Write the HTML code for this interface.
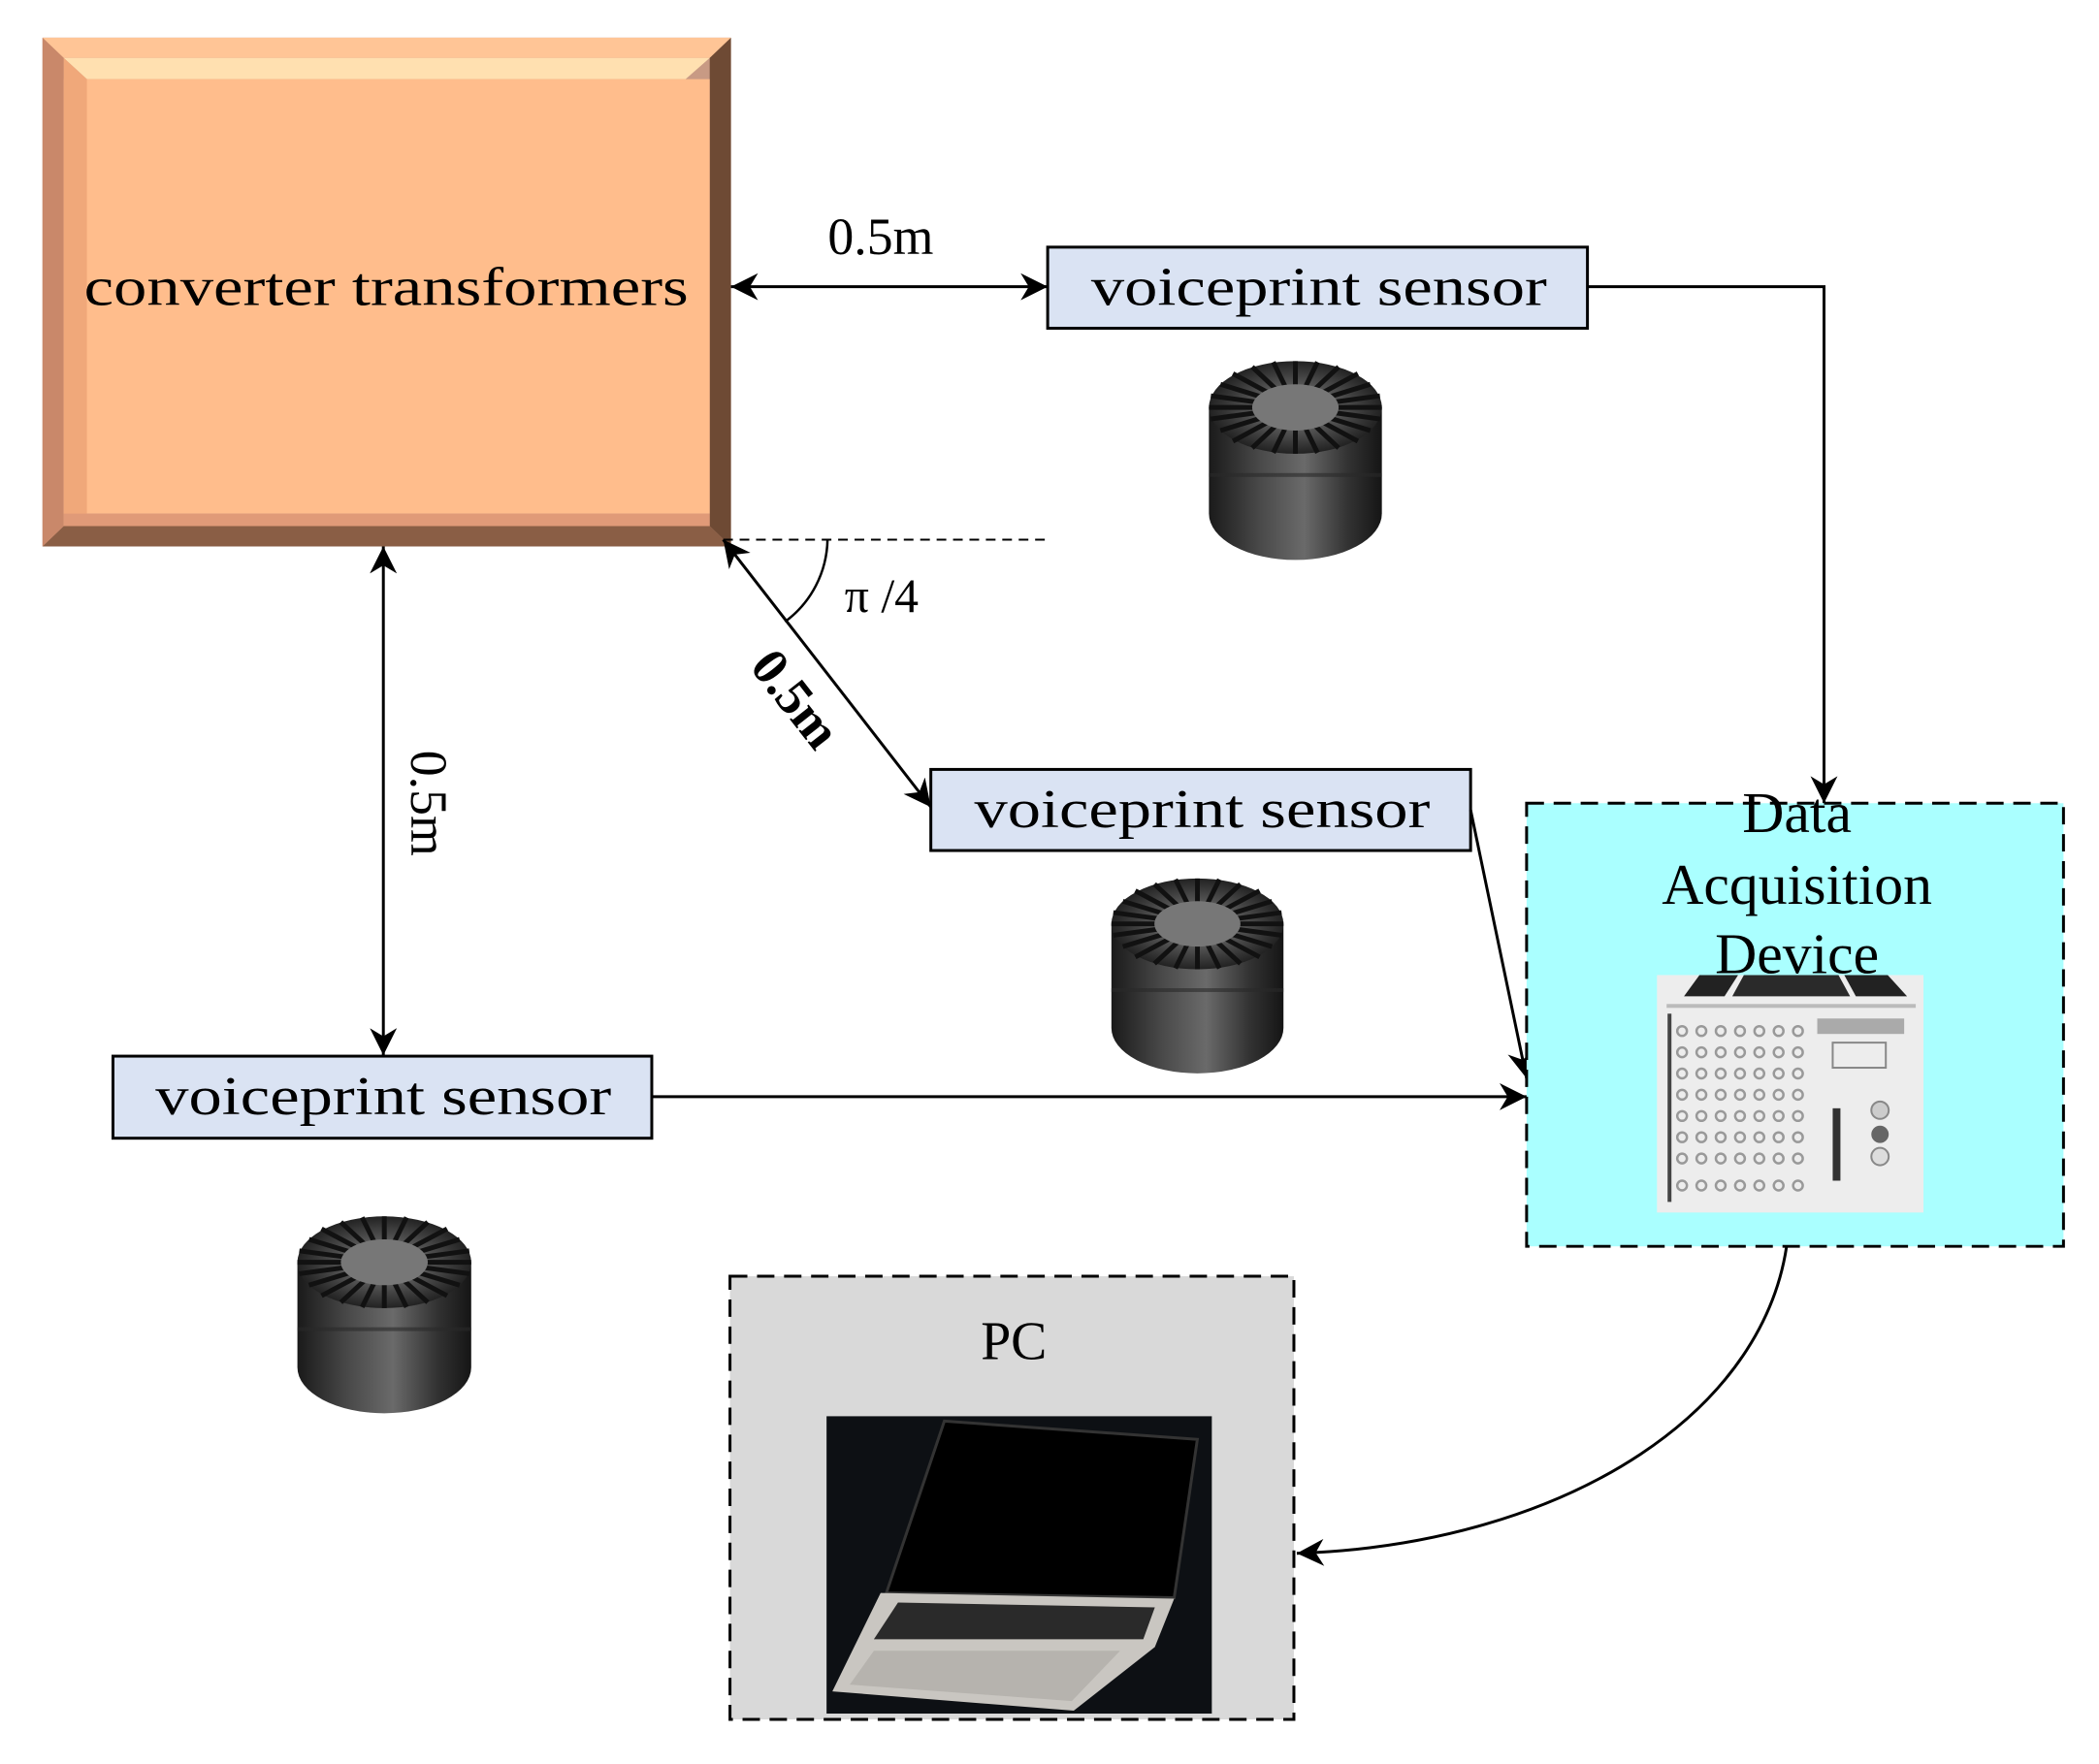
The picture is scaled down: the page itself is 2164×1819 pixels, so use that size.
<!DOCTYPE html>
<html><head><meta charset="utf-8"><style>html,body{margin:0;padding:0;background:#fff}svg{display:block}</style></head>
<body>
<svg width="2164" height="1819" viewBox="0 0 2164 1819" xmlns="http://www.w3.org/2000/svg" font-family="'Liberation Serif', serif">
<defs>
<marker id="ah" viewBox="0 0 10 10" refX="10" refY="5" markerWidth="32" markerHeight="28" markerUnits="userSpaceOnUse" orient="auto-start-reverse">
<path d="M0,0 L10,5 L0,10 L3,5 z" fill="#000"/></marker>
<linearGradient id="cyl" x1="0" x2="1" y1="0" y2="0">
<stop offset="0" stop-color="#1a1a1a"/><stop offset="0.3" stop-color="#4a4a4a"/><stop offset="0.55" stop-color="#6a6a6a"/><stop offset="0.8" stop-color="#333"/><stop offset="1" stop-color="#151515"/></linearGradient>
<radialGradient id="top" cx="0.5" cy="0.5" r="0.5"><stop offset="0" stop-color="#888"/><stop offset="0.5" stop-color="#555"/><stop offset="1" stop-color="#222"/></radialGradient>
<g id="sensor">
<path d="M0,50 L0,160 A90,48 0 0 0 180,160 L180,50 Z" fill="url(#cyl)"/>
<rect x="0" y="118" width="180" height="4" fill="#2a2a2a" opacity="0.6"/>
<ellipse cx="90" cy="50" rx="90" ry="48" fill="url(#top)"/>
<g stroke="#111" stroke-width="5">
<line x1="90" y1="50" x2="180" y2="50"/><line x1="90" y1="50" x2="168" y2="74"/><line x1="90" y1="50" x2="135" y2="92"/><line x1="90" y1="50" x2="90" y2="98"/><line x1="90" y1="50" x2="45" y2="92"/><line x1="90" y1="50" x2="12" y2="74"/><line x1="90" y1="50" x2="0" y2="50"/><line x1="90" y1="50" x2="12" y2="26"/><line x1="90" y1="50" x2="45" y2="8"/><line x1="90" y1="50" x2="90" y2="2"/><line x1="90" y1="50" x2="135" y2="8"/><line x1="90" y1="50" x2="168" y2="26"/>
<line x1="90" y1="50" x2="178" y2="62"/><line x1="90" y1="50" x2="155" y2="85"/><line x1="90" y1="50" x2="113" y2="97"/><line x1="90" y1="50" x2="67" y2="97"/><line x1="90" y1="50" x2="25" y2="85"/><line x1="90" y1="50" x2="2" y2="62"/><line x1="90" y1="50" x2="2" y2="38"/><line x1="90" y1="50" x2="25" y2="15"/><line x1="90" y1="50" x2="67" y2="3"/><line x1="90" y1="50" x2="113" y2="3"/><line x1="90" y1="50" x2="155" y2="15"/><line x1="90" y1="50" x2="178" y2="38"/>
</g>
<ellipse cx="90" cy="50" rx="45" ry="24" fill="#777"/>
</g>
</defs>
<g transform="scale(0.9955)">
<!-- orange box with bevel -->
<rect x="44" y="39" width="713" height="527" fill="#c89a84"/>
<polygon points="44,39 757,39 735,60 66,60" fill="#ffc596"/>
<polygon points="66,60 735,60 710,82 90,82" fill="#ffe0b0"/>
<polygon points="757,39 757,566 735,545 735,60" fill="#6e4a34"/>
<polygon points="44,566 757,566 735,545 66,545" fill="#8a5e45"/>
<polygon points="44,39 66,60 66,545 44,566" fill="#c9886a"/>
<rect x="66" y="82" width="669" height="450" fill="#ffbd8c"/>
<polygon points="66,60 90,82 90,532 66,545" fill="#f0a87a"/>
<polygon points="66,532 735,532 735,545 66,545" fill="#e09a78"/>
<text x="400" y="316" font-size="56" text-anchor="middle" textLength="626" lengthAdjust="spacingAndGlyphs">converter transformers</text>

<rect x="1085" y="256" width="559" height="84" fill="#dae3f3" stroke="#000" stroke-width="3"/>
<text x="1366" y="316" font-size="56" text-anchor="middle" textLength="472" lengthAdjust="spacingAndGlyphs">voiceprint sensor</text>
<rect x="964" y="797" width="559" height="84" fill="#dae3f3" stroke="#000" stroke-width="3"/>
<text x="1245" y="857" font-size="56" text-anchor="middle" textLength="472" lengthAdjust="spacingAndGlyphs">voiceprint sensor</text>
<rect x="117" y="1094" width="558" height="85" fill="#dae3f3" stroke="#000" stroke-width="3"/>
<text x="397" y="1154" font-size="56" text-anchor="middle" textLength="472" lengthAdjust="spacingAndGlyphs">voiceprint sensor</text>

<use href="#sensor" transform="translate(1252,372) scale(0.995,1.0)"/>
<use href="#sensor" transform="translate(1151,908) scale(0.99,0.98)"/>
<use href="#sensor" transform="translate(308,1258) scale(1,0.99)"/>

<g stroke="#000" stroke-width="3" fill="none">
<line x1="757" y1="297" x2="1085" y2="297" marker-start="url(#ah)" marker-end="url(#ah)"/>
<polyline points="1644,297 1889,297 1889,832" marker-end="url(#ah)"/>
<line x1="397" y1="566" x2="397" y2="1093" marker-start="url(#ah)" marker-end="url(#ah)"/>
<line x1="749" y1="559" x2="964" y2="836" marker-start="url(#ah)" marker-end="url(#ah)"/>
<line x1="675" y1="1136" x2="1581" y2="1136" marker-end="url(#ah)"/>
<line x1="1523" y1="839" x2="1581" y2="1117" marker-end="url(#ah)"/>
<path d="M1853,1262 C1845,1460 1620,1600 1343,1609" marker-end="url(#ah)"/>
<line x1="749" y1="559" x2="1082" y2="559" stroke-width="2" stroke-dasharray="10,7"/>
<path d="M857,559 A108,108 0 0 1 813,644" stroke-width="2.5"/>
</g>
<text x="912" y="263" font-size="54" text-anchor="middle">0.5m</text>
<text x="913" y="634" font-size="50" text-anchor="middle">π /4</text>
<text transform="translate(426,832) rotate(90)" font-size="54" text-anchor="middle">0.5m</text>
<text transform="translate(810,735) rotate(52)" font-size="54" text-anchor="middle" font-weight="bold">0.5m</text>

<rect x="1581" y="832" width="556" height="459" fill="#aaffff" stroke="#000" stroke-width="3" stroke-dasharray="18,10"/>
<text x="1861" y="862" font-size="60" text-anchor="middle">Data</text>
<text x="1861" y="936" font-size="60" text-anchor="middle">Acquisition</text>
<text x="1861" y="1008" font-size="60" text-anchor="middle">Device</text>
<g>
<rect x="1716" y="1010" width="276" height="246" fill="#ededed"/>
<polygon points="1744,1032 1760,1010 1800,1010 1786,1032" fill="#222"/>
<polygon points="1794,1032 1806,1010 1904,1010 1916,1032" fill="#2a2a2a"/>
<polygon points="1922,1032 1910,1010 1955,1010 1975,1032" fill="#222"/>
<rect x="1726" y="1040" width="258" height="4" fill="#bbb"/>
<rect x="1727" y="1050" width="4" height="195" fill="#444"/>
<g fill="none" stroke="#999" stroke-width="2.5">
<circle cx="1742" cy="1068" r="5"/><circle cx="1762" cy="1068" r="5"/><circle cx="1782" cy="1068" r="5"/><circle cx="1802" cy="1068" r="5"/><circle cx="1822" cy="1068" r="5"/><circle cx="1842" cy="1068" r="5"/><circle cx="1862" cy="1068" r="5"/>
<circle cx="1742" cy="1090" r="5"/><circle cx="1762" cy="1090" r="5"/><circle cx="1782" cy="1090" r="5"/><circle cx="1802" cy="1090" r="5"/><circle cx="1822" cy="1090" r="5"/><circle cx="1842" cy="1090" r="5"/><circle cx="1862" cy="1090" r="5"/>
<circle cx="1742" cy="1112" r="5"/><circle cx="1762" cy="1112" r="5"/><circle cx="1782" cy="1112" r="5"/><circle cx="1802" cy="1112" r="5"/><circle cx="1822" cy="1112" r="5"/><circle cx="1842" cy="1112" r="5"/><circle cx="1862" cy="1112" r="5"/>
<circle cx="1742" cy="1134" r="5"/><circle cx="1762" cy="1134" r="5"/><circle cx="1782" cy="1134" r="5"/><circle cx="1802" cy="1134" r="5"/><circle cx="1822" cy="1134" r="5"/><circle cx="1842" cy="1134" r="5"/><circle cx="1862" cy="1134" r="5"/>
<circle cx="1742" cy="1156" r="5"/><circle cx="1762" cy="1156" r="5"/><circle cx="1782" cy="1156" r="5"/><circle cx="1802" cy="1156" r="5"/><circle cx="1822" cy="1156" r="5"/><circle cx="1842" cy="1156" r="5"/><circle cx="1862" cy="1156" r="5"/>
<circle cx="1742" cy="1178" r="5"/><circle cx="1762" cy="1178" r="5"/><circle cx="1782" cy="1178" r="5"/><circle cx="1802" cy="1178" r="5"/><circle cx="1822" cy="1178" r="5"/><circle cx="1842" cy="1178" r="5"/><circle cx="1862" cy="1178" r="5"/>
<circle cx="1742" cy="1200" r="5"/><circle cx="1762" cy="1200" r="5"/><circle cx="1782" cy="1200" r="5"/><circle cx="1802" cy="1200" r="5"/><circle cx="1822" cy="1200" r="5"/><circle cx="1842" cy="1200" r="5"/><circle cx="1862" cy="1200" r="5"/>
<circle cx="1742" cy="1228" r="5"/><circle cx="1762" cy="1228" r="5"/><circle cx="1782" cy="1228" r="5"/><circle cx="1802" cy="1228" r="5"/><circle cx="1822" cy="1228" r="5"/><circle cx="1842" cy="1228" r="5"/><circle cx="1862" cy="1228" r="5"/>
</g>
<rect x="1882" y="1055" width="90" height="16" fill="#aaa"/>
<rect x="1898" y="1080" width="55" height="26" fill="none" stroke="#888" stroke-width="2"/>
<rect x="1898" y="1148" width="8" height="75" fill="#333"/>
<circle cx="1947" cy="1150" r="9" fill="#ccc" stroke="#888" stroke-width="2"/>
<circle cx="1947" cy="1175" r="9" fill="#666"/>
<circle cx="1947" cy="1198" r="9" fill="#ddd" stroke="#888" stroke-width="2"/>
</g>

<rect x="756" y="1322" width="584" height="459" fill="#d9d9d9" stroke="#000" stroke-width="3" stroke-dasharray="18,10"/>
<text x="1050" y="1408" font-size="56" text-anchor="middle">PC</text>
<rect x="856" y="1467" width="399" height="308" fill="#0d1014"/>
<polygon points="978,1472 1240,1491 1216,1655 918,1650" fill="#000" stroke="#333" stroke-width="3"/>
<polygon points="912,1650 1216,1656 1196,1706 1112,1772 862,1752" fill="#c9c6c1"/>
<polygon points="930,1660 1196,1665 1184,1698 905,1698" fill="#2a2a2a"/>
<polygon points="905,1710 1160,1710 1110,1762 880,1745" fill="#b6b3ae"/>
</g>
</svg>
</body></html>
